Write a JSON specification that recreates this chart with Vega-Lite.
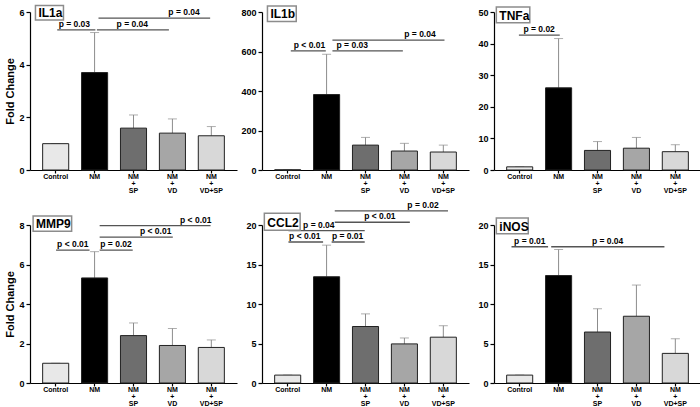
{
  "$schema": "https://vega.github.io/schema/vega-lite/v6.json",
  "background": "white",
  "padding": {"left": 4, "top": 4, "right": 0, "bottom": 0},
  "columns": 3,
  "spacing": {"row": 55, "column": 25},
  "bounds": "flush",
  "datasets": {
    "bars": [
      {"panel": "IL1a", "group": "Control", "mean": 1.0, "upper": 1.0},
      {"panel": "IL1a", "group": "NM", "mean": 3.7, "upper": 5.22},
      {"panel": "IL1a", "group": "NM+SP", "mean": 1.59, "upper": 2.09},
      {"panel": "IL1a", "group": "NM+VD", "mean": 1.4, "upper": 1.94},
      {"panel": "IL1a", "group": "NM+VD+SP", "mean": 1.3, "upper": 1.65},
      {"panel": "IL1b", "group": "Control", "mean": 1.0, "upper": 1.0},
      {"panel": "IL1b", "group": "NM", "mean": 382, "upper": 586},
      {"panel": "IL1b", "group": "NM+SP", "mean": 126, "upper": 165},
      {"panel": "IL1b", "group": "NM+VD", "mean": 96, "upper": 135},
      {"panel": "IL1b", "group": "NM+VD+SP", "mean": 91, "upper": 126},
      {"panel": "TNFa", "group": "Control", "mean": 1.0, "upper": 1.0},
      {"panel": "TNFa", "group": "NM", "mean": 26.0, "upper": 41.6},
      {"panel": "TNFa", "group": "NM+SP", "mean": 6.2, "upper": 9.0},
      {"panel": "TNFa", "group": "NM+VD", "mean": 6.9, "upper": 10.3},
      {"panel": "TNFa", "group": "NM+VD+SP", "mean": 5.8, "upper": 8.0},
      {"panel": "MMP9", "group": "Control", "mean": 1.0, "upper": 1.0},
      {"panel": "MMP9", "group": "NM", "mean": 5.32, "upper": 6.65},
      {"panel": "MMP9", "group": "NM+SP", "mean": 2.4, "upper": 3.04},
      {"panel": "MMP9", "group": "NM+VD", "mean": 1.9, "upper": 2.76},
      {"panel": "MMP9", "group": "NM+VD+SP", "mean": 1.8, "upper": 2.18},
      {"panel": "CCL2", "group": "Control", "mean": 1.0, "upper": 1.0},
      {"panel": "CCL2", "group": "NM", "mean": 13.45, "upper": 17.45},
      {"panel": "CCL2", "group": "NM+SP", "mean": 7.15, "upper": 8.75},
      {"panel": "CCL2", "group": "NM+VD", "mean": 4.95, "upper": 5.7},
      {"panel": "CCL2", "group": "NM+VD+SP", "mean": 5.8, "upper": 7.25},
      {"panel": "iNOS", "group": "Control", "mean": 1.0, "upper": 1.0},
      {"panel": "iNOS", "group": "NM", "mean": 13.6, "upper": 16.9},
      {"panel": "iNOS", "group": "NM+SP", "mean": 6.45, "upper": 9.4},
      {"panel": "iNOS", "group": "NM+VD", "mean": 8.45, "upper": 12.4},
      {"panel": "iNOS", "group": "NM+VD+SP", "mean": 3.75, "upper": 5.6}
    ],
    "notes": [
      {"panel": "IL1a", "x1": 0.04, "x2": 1.02, "y": 5.32, "xt": 0.48, "label": "p = 0.03"},
      {"panel": "IL1a", "x1": 1.06, "x2": 2.91, "y": 5.32, "xt": 1.97, "label": "p = 0.04"},
      {"panel": "IL1a", "x1": 1.1, "x2": 3.97, "y": 5.77, "xt": 3.3, "label": "p = 0.04"},
      {"panel": "IL1b", "x1": 0.08, "x2": 0.98, "y": 603, "xt": 0.56, "label": "p < 0.01"},
      {"panel": "IL1b", "x1": 1.15, "x2": 2.96, "y": 603, "xt": 1.66, "label": "p = 0.03"},
      {"panel": "IL1b", "x1": 1.15, "x2": 4.03, "y": 658, "xt": 3.4, "label": "p = 0.04"},
      {"panel": "TNFa", "x1": -0.02, "x2": 1.03, "y": 42.7, "xt": 0.5, "label": "p = 0.02"},
      {"panel": "MMP9", "x1": 0.01, "x2": 0.87, "y": 6.73, "xt": 0.44, "label": "p < 0.01"},
      {"panel": "MMP9", "x1": 1.13, "x2": 1.98, "y": 6.73, "xt": 1.55, "label": "p = 0.02"},
      {"panel": "MMP9", "x1": 1.13, "x2": 3.01, "y": 7.39, "xt": 2.57, "label": "p < 0.01"},
      {"panel": "MMP9", "x1": 1.13, "x2": 3.98, "y": 7.97, "xt": 3.6, "label": "p < 0.01"},
      {"panel": "CCL2", "x1": 0.02, "x2": 0.91, "y": 17.85, "xt": 0.44, "label": "p < 0.01"},
      {"panel": "CCL2", "x1": 1.13, "x2": 1.98, "y": 17.85, "xt": 1.54, "label": "p = 0.01"},
      {"panel": "CCL2", "x1": 0.02, "x2": 1.98, "y": 19.3, "xt": 0.8, "label": "p = 0.04"},
      {"panel": "CCL2", "x1": 1.21, "x2": 3.14, "y": 20.35, "xt": 2.37, "label": "p < 0.01"},
      {"panel": "CCL2", "x1": 1.21, "x2": 4.12, "y": 21.8, "xt": 3.48, "label": "p = 0.02"},
      {"panel": "iNOS", "x1": -0.21, "x2": 0.73, "y": 17.25, "xt": 0.26, "label": "p = 0.01"},
      {"panel": "iNOS", "x1": 0.81, "x2": 3.72, "y": 17.25, "xt": 2.26, "label": "p = 0.04"}
    ],
    "labels": [
      {"panel": "IL1a", "name": "IL1a", "bx1": -0.52, "bx2": 0.2, "by1": 6.25, "by2": 5.7},
      {"panel": "IL1b", "name": "IL1b", "bx1": -0.52, "bx2": 0.22, "by1": 830, "by2": 752},
      {"panel": "TNFa", "name": "TNFa", "bx1": -0.6, "bx2": 0.26, "by1": 51.6, "by2": 46.6},
      {"panel": "MMP9", "name": "MMP9", "bx1": -0.58, "bx2": 0.41, "by1": 8.46, "by2": 7.68},
      {"panel": "CCL2", "name": "CCL2", "bx1": -0.6, "bx2": 0.32, "by1": 21.5, "by2": 19.35},
      {"panel": "iNOS", "name": "iNOS", "bx1": -0.6, "bx2": 0.22, "by1": 20.9, "by2": 18.9}
    ]
  },
  "concat": [
    {
      "width": 207, "height": 158,
      "resolve": {"scale": {"x": "independent"}},
      "layer": [
        {
          "data": {"name": "bars"},
          "transform": [{"filter": "datum.panel === 'IL1a'"}],
          "encoding": {
            "x": {"field": "group", "type": "nominal", "sort": ["Control", "NM", "NM+SP", "NM+VD", "NM+VD+SP"], "title": null, "scale": {"paddingInner": 0.33, "paddingOuter": 0.325}, "axis": {"labelExpr": "indexof(datum.value, '+') > 0 ? [slice(datum.value, 0, 2), '+', slice(datum.value, 3)] : datum.value"}},
            "y": {"field": "mean", "type": "quantitative", "title": "Fold Change", "scale": {"domain": [0, 6], "nice": false}, "axis": {"values": [0, 2, 4, 6], "labelOverlap": false}}
          },
          "layer": [
            {"mark": {"type": "rule", "color": "#8c8c8c", "strokeWidth": 1}, "encoding": {"y2": {"field": "upper"}}},
            {"mark": {"type": "tick", "color": "#8c8c8c", "thickness": 1, "size": 9}, "encoding": {"y": {"field": "upper", "type": "quantitative", "title": "Fold Change", "scale": {"domain": [0, 6], "nice": false}, "axis": {"values": [0, 2, 4, 6], "labelOverlap": false}}}},
            {"mark": {"type": "bar", "stroke": "#222222", "strokeWidth": 1}, "encoding": {"fill": {"field": "group", "type": "nominal", "legend": null, "scale": {"domain": ["Control", "NM", "NM+SP", "NM+VD", "NM+VD+SP"], "range": ["#e8e8e8", "#000000", "#6e6e6e", "#a6a6a6", "#d8d8d8"]}}}}
          ]
        },
        {
          "data": {"name": "notes"},
          "transform": [{"filter": "datum.panel === 'IL1a'"}],
          "layer": [
            {"mark": {"type": "rule", "color": "#555555", "strokeWidth": 1.3}, "encoding": {"x": {"field": "x1", "type": "quantitative", "axis": null, "scale": {"domain": [-0.66, 4.66], "nice": false, "zero": false}}, "x2": {"field": "x2"}, "y": {"field": "y", "type": "quantitative", "title": "Fold Change", "scale": {"domain": [0, 6], "nice": false}, "axis": {"values": [0, 2, 4, 6], "labelOverlap": false}}}},
            {"mark": {"type": "text", "baseline": "bottom", "dy": -1, "fontWeight": "bold", "fontSize": 8.5, "font": "Liberation Sans"}, "encoding": {"x": {"field": "xt", "type": "quantitative", "axis": null, "scale": {"domain": [-0.66, 4.66], "nice": false, "zero": false}}, "y": {"field": "y", "type": "quantitative", "title": "Fold Change", "scale": {"domain": [0, 6], "nice": false}, "axis": {"values": [0, 2, 4, 6], "labelOverlap": false}}, "text": {"field": "label"}}}
          ]
        },
        {
          "data": {"name": "labels"},
          "transform": [{"filter": "datum.panel === 'IL1a'"}],
          "layer": [
            {"mark": {"type": "rect", "fill": "white", "stroke": "#8c8c8c", "strokeWidth": 1.5}, "encoding": {"x": {"field": "bx1", "type": "quantitative", "axis": null, "scale": {"domain": [-0.66, 4.66], "nice": false, "zero": false}}, "x2": {"field": "bx2"}, "y": {"field": "by1", "type": "quantitative", "title": "Fold Change", "scale": {"domain": [0, 6], "nice": false}, "axis": {"values": [0, 2, 4, 6], "labelOverlap": false}}, "y2": {"field": "by2"}}},
            {"mark": {"type": "text", "align": "left", "baseline": "alphabetic", "dx": 3, "dy": -3, "fontWeight": "bold", "fontSize": 12, "font": "Liberation Sans"}, "encoding": {"x": {"field": "bx1", "type": "quantitative", "axis": null, "scale": {"domain": [-0.66, 4.66], "nice": false, "zero": false}}, "y": {"field": "by2", "type": "quantitative", "title": "Fold Change", "scale": {"domain": [0, 6], "nice": false}, "axis": {"values": [0, 2, 4, 6], "labelOverlap": false}}, "text": {"field": "name"}}}
          ]
        }
      ]
    },
    {
      "width": 207, "height": 158,
      "resolve": {"scale": {"x": "independent"}},
      "layer": [
        {
          "data": {"name": "bars"},
          "transform": [{"filter": "datum.panel === 'IL1b'"}],
          "encoding": {
            "x": {"field": "group", "type": "nominal", "sort": ["Control", "NM", "NM+SP", "NM+VD", "NM+VD+SP"], "title": null, "scale": {"paddingInner": 0.33, "paddingOuter": 0.325}, "axis": {"labelExpr": "indexof(datum.value, '+') > 0 ? [slice(datum.value, 0, 2), '+', slice(datum.value, 3)] : datum.value"}},
            "y": {"field": "mean", "type": "quantitative", "title": null, "scale": {"domain": [0, 800], "nice": false}, "axis": {"values": [0, 200, 400, 600, 800], "labelOverlap": false}}
          },
          "layer": [
            {"mark": {"type": "rule", "color": "#8c8c8c", "strokeWidth": 1}, "encoding": {"y2": {"field": "upper"}}},
            {"mark": {"type": "tick", "color": "#8c8c8c", "thickness": 1, "size": 9}, "encoding": {"y": {"field": "upper", "type": "quantitative", "title": null, "scale": {"domain": [0, 800], "nice": false}, "axis": {"values": [0, 200, 400, 600, 800], "labelOverlap": false}}}},
            {"mark": {"type": "bar", "stroke": "#222222", "strokeWidth": 1}, "encoding": {"fill": {"field": "group", "type": "nominal", "legend": null, "scale": {"domain": ["Control", "NM", "NM+SP", "NM+VD", "NM+VD+SP"], "range": ["#e8e8e8", "#000000", "#6e6e6e", "#a6a6a6", "#d8d8d8"]}}}}
          ]
        },
        {
          "data": {"name": "notes"},
          "transform": [{"filter": "datum.panel === 'IL1b'"}],
          "layer": [
            {"mark": {"type": "rule", "color": "#555555", "strokeWidth": 1.3}, "encoding": {"x": {"field": "x1", "type": "quantitative", "axis": null, "scale": {"domain": [-0.66, 4.66], "nice": false, "zero": false}}, "x2": {"field": "x2"}, "y": {"field": "y", "type": "quantitative", "title": null, "scale": {"domain": [0, 800], "nice": false}, "axis": {"values": [0, 200, 400, 600, 800], "labelOverlap": false}}}},
            {"mark": {"type": "text", "baseline": "bottom", "dy": -1, "fontWeight": "bold", "fontSize": 8.5, "font": "Liberation Sans"}, "encoding": {"x": {"field": "xt", "type": "quantitative", "axis": null, "scale": {"domain": [-0.66, 4.66], "nice": false, "zero": false}}, "y": {"field": "y", "type": "quantitative", "title": null, "scale": {"domain": [0, 800], "nice": false}, "axis": {"values": [0, 200, 400, 600, 800], "labelOverlap": false}}, "text": {"field": "label"}}}
          ]
        },
        {
          "data": {"name": "labels"},
          "transform": [{"filter": "datum.panel === 'IL1b'"}],
          "layer": [
            {"mark": {"type": "rect", "fill": "white", "stroke": "#8c8c8c", "strokeWidth": 1.5}, "encoding": {"x": {"field": "bx1", "type": "quantitative", "axis": null, "scale": {"domain": [-0.66, 4.66], "nice": false, "zero": false}}, "x2": {"field": "bx2"}, "y": {"field": "by1", "type": "quantitative", "title": null, "scale": {"domain": [0, 800], "nice": false}, "axis": {"values": [0, 200, 400, 600, 800], "labelOverlap": false}}, "y2": {"field": "by2"}}},
            {"mark": {"type": "text", "align": "left", "baseline": "alphabetic", "dx": 3, "dy": -3, "fontWeight": "bold", "fontSize": 12, "font": "Liberation Sans"}, "encoding": {"x": {"field": "bx1", "type": "quantitative", "axis": null, "scale": {"domain": [-0.66, 4.66], "nice": false, "zero": false}}, "y": {"field": "by2", "type": "quantitative", "title": null, "scale": {"domain": [0, 800], "nice": false}, "axis": {"values": [0, 200, 400, 600, 800], "labelOverlap": false}}, "text": {"field": "name"}}}
          ]
        }
      ]
    },
    {
      "width": 207, "height": 158,
      "resolve": {"scale": {"x": "independent"}},
      "layer": [
        {
          "data": {"name": "bars"},
          "transform": [{"filter": "datum.panel === 'TNFa'"}],
          "encoding": {
            "x": {"field": "group", "type": "nominal", "sort": ["Control", "NM", "NM+SP", "NM+VD", "NM+VD+SP"], "title": null, "scale": {"paddingInner": 0.33, "paddingOuter": 0.325}, "axis": {"labelExpr": "indexof(datum.value, '+') > 0 ? [slice(datum.value, 0, 2), '+', slice(datum.value, 3)] : datum.value"}},
            "y": {"field": "mean", "type": "quantitative", "title": null, "scale": {"domain": [0, 50], "nice": false}, "axis": {"values": [0, 10, 20, 30, 40, 50], "labelOverlap": false}}
          },
          "layer": [
            {"mark": {"type": "rule", "color": "#8c8c8c", "strokeWidth": 1}, "encoding": {"y2": {"field": "upper"}}},
            {"mark": {"type": "tick", "color": "#8c8c8c", "thickness": 1, "size": 9}, "encoding": {"y": {"field": "upper", "type": "quantitative", "title": null, "scale": {"domain": [0, 50], "nice": false}, "axis": {"values": [0, 10, 20, 30, 40, 50], "labelOverlap": false}}}},
            {"mark": {"type": "bar", "stroke": "#222222", "strokeWidth": 1}, "encoding": {"fill": {"field": "group", "type": "nominal", "legend": null, "scale": {"domain": ["Control", "NM", "NM+SP", "NM+VD", "NM+VD+SP"], "range": ["#e8e8e8", "#000000", "#6e6e6e", "#a6a6a6", "#d8d8d8"]}}}}
          ]
        },
        {
          "data": {"name": "notes"},
          "transform": [{"filter": "datum.panel === 'TNFa'"}],
          "layer": [
            {"mark": {"type": "rule", "color": "#555555", "strokeWidth": 1.3}, "encoding": {"x": {"field": "x1", "type": "quantitative", "axis": null, "scale": {"domain": [-0.66, 4.66], "nice": false, "zero": false}}, "x2": {"field": "x2"}, "y": {"field": "y", "type": "quantitative", "title": null, "scale": {"domain": [0, 50], "nice": false}, "axis": {"values": [0, 10, 20, 30, 40, 50], "labelOverlap": false}}}},
            {"mark": {"type": "text", "baseline": "bottom", "dy": -1, "fontWeight": "bold", "fontSize": 8.5, "font": "Liberation Sans"}, "encoding": {"x": {"field": "xt", "type": "quantitative", "axis": null, "scale": {"domain": [-0.66, 4.66], "nice": false, "zero": false}}, "y": {"field": "y", "type": "quantitative", "title": null, "scale": {"domain": [0, 50], "nice": false}, "axis": {"values": [0, 10, 20, 30, 40, 50], "labelOverlap": false}}, "text": {"field": "label"}}}
          ]
        },
        {
          "data": {"name": "labels"},
          "transform": [{"filter": "datum.panel === 'TNFa'"}],
          "layer": [
            {"mark": {"type": "rect", "fill": "white", "stroke": "#8c8c8c", "strokeWidth": 1.5}, "encoding": {"x": {"field": "bx1", "type": "quantitative", "axis": null, "scale": {"domain": [-0.66, 4.66], "nice": false, "zero": false}}, "x2": {"field": "bx2"}, "y": {"field": "by1", "type": "quantitative", "title": null, "scale": {"domain": [0, 50], "nice": false}, "axis": {"values": [0, 10, 20, 30, 40, 50], "labelOverlap": false}}, "y2": {"field": "by2"}}},
            {"mark": {"type": "text", "align": "left", "baseline": "alphabetic", "dx": 3, "dy": -3, "fontWeight": "bold", "fontSize": 12, "font": "Liberation Sans"}, "encoding": {"x": {"field": "bx1", "type": "quantitative", "axis": null, "scale": {"domain": [-0.66, 4.66], "nice": false, "zero": false}}, "y": {"field": "by2", "type": "quantitative", "title": null, "scale": {"domain": [0, 50], "nice": false}, "axis": {"values": [0, 10, 20, 30, 40, 50], "labelOverlap": false}}, "text": {"field": "name"}}}
          ]
        }
      ]
    },
    {
      "width": 207, "height": 158,
      "resolve": {"scale": {"x": "independent"}},
      "layer": [
        {
          "data": {"name": "bars"},
          "transform": [{"filter": "datum.panel === 'MMP9'"}],
          "encoding": {
            "x": {"field": "group", "type": "nominal", "sort": ["Control", "NM", "NM+SP", "NM+VD", "NM+VD+SP"], "title": null, "scale": {"paddingInner": 0.33, "paddingOuter": 0.325}, "axis": {"labelExpr": "indexof(datum.value, '+') > 0 ? [slice(datum.value, 0, 2), '+', slice(datum.value, 3)] : datum.value"}},
            "y": {"field": "mean", "type": "quantitative", "title": "Fold Change", "scale": {"domain": [0, 8], "nice": false}, "axis": {"values": [0, 2, 4, 6, 8], "labelOverlap": false}}
          },
          "layer": [
            {"mark": {"type": "rule", "color": "#8c8c8c", "strokeWidth": 1}, "encoding": {"y2": {"field": "upper"}}},
            {"mark": {"type": "tick", "color": "#8c8c8c", "thickness": 1, "size": 9}, "encoding": {"y": {"field": "upper", "type": "quantitative", "title": "Fold Change", "scale": {"domain": [0, 8], "nice": false}, "axis": {"values": [0, 2, 4, 6, 8], "labelOverlap": false}}}},
            {"mark": {"type": "bar", "stroke": "#222222", "strokeWidth": 1}, "encoding": {"fill": {"field": "group", "type": "nominal", "legend": null, "scale": {"domain": ["Control", "NM", "NM+SP", "NM+VD", "NM+VD+SP"], "range": ["#e8e8e8", "#000000", "#6e6e6e", "#a6a6a6", "#d8d8d8"]}}}}
          ]
        },
        {
          "data": {"name": "notes"},
          "transform": [{"filter": "datum.panel === 'MMP9'"}],
          "layer": [
            {"mark": {"type": "rule", "color": "#555555", "strokeWidth": 1.3}, "encoding": {"x": {"field": "x1", "type": "quantitative", "axis": null, "scale": {"domain": [-0.66, 4.66], "nice": false, "zero": false}}, "x2": {"field": "x2"}, "y": {"field": "y", "type": "quantitative", "title": "Fold Change", "scale": {"domain": [0, 8], "nice": false}, "axis": {"values": [0, 2, 4, 6, 8], "labelOverlap": false}}}},
            {"mark": {"type": "text", "baseline": "bottom", "dy": -1, "fontWeight": "bold", "fontSize": 8.5, "font": "Liberation Sans"}, "encoding": {"x": {"field": "xt", "type": "quantitative", "axis": null, "scale": {"domain": [-0.66, 4.66], "nice": false, "zero": false}}, "y": {"field": "y", "type": "quantitative", "title": "Fold Change", "scale": {"domain": [0, 8], "nice": false}, "axis": {"values": [0, 2, 4, 6, 8], "labelOverlap": false}}, "text": {"field": "label"}}}
          ]
        },
        {
          "data": {"name": "labels"},
          "transform": [{"filter": "datum.panel === 'MMP9'"}],
          "layer": [
            {"mark": {"type": "rect", "fill": "white", "stroke": "#8c8c8c", "strokeWidth": 1.5}, "encoding": {"x": {"field": "bx1", "type": "quantitative", "axis": null, "scale": {"domain": [-0.66, 4.66], "nice": false, "zero": false}}, "x2": {"field": "bx2"}, "y": {"field": "by1", "type": "quantitative", "title": "Fold Change", "scale": {"domain": [0, 8], "nice": false}, "axis": {"values": [0, 2, 4, 6, 8], "labelOverlap": false}}, "y2": {"field": "by2"}}},
            {"mark": {"type": "text", "align": "left", "baseline": "alphabetic", "dx": 3, "dy": -3, "fontWeight": "bold", "fontSize": 12, "font": "Liberation Sans"}, "encoding": {"x": {"field": "bx1", "type": "quantitative", "axis": null, "scale": {"domain": [-0.66, 4.66], "nice": false, "zero": false}}, "y": {"field": "by2", "type": "quantitative", "title": "Fold Change", "scale": {"domain": [0, 8], "nice": false}, "axis": {"values": [0, 2, 4, 6, 8], "labelOverlap": false}}, "text": {"field": "name"}}}
          ]
        }
      ]
    },
    {
      "width": 207, "height": 158,
      "resolve": {"scale": {"x": "independent"}},
      "layer": [
        {
          "data": {"name": "bars"},
          "transform": [{"filter": "datum.panel === 'CCL2'"}],
          "encoding": {
            "x": {"field": "group", "type": "nominal", "sort": ["Control", "NM", "NM+SP", "NM+VD", "NM+VD+SP"], "title": null, "scale": {"paddingInner": 0.33, "paddingOuter": 0.325}, "axis": {"labelExpr": "indexof(datum.value, '+') > 0 ? [slice(datum.value, 0, 2), '+', slice(datum.value, 3)] : datum.value"}},
            "y": {"field": "mean", "type": "quantitative", "title": null, "scale": {"domain": [0, 20], "nice": false}, "axis": {"values": [0, 5, 10, 15, 20], "labelOverlap": false}}
          },
          "layer": [
            {"mark": {"type": "rule", "color": "#8c8c8c", "strokeWidth": 1}, "encoding": {"y2": {"field": "upper"}}},
            {"mark": {"type": "tick", "color": "#8c8c8c", "thickness": 1, "size": 9}, "encoding": {"y": {"field": "upper", "type": "quantitative", "title": null, "scale": {"domain": [0, 20], "nice": false}, "axis": {"values": [0, 5, 10, 15, 20], "labelOverlap": false}}}},
            {"mark": {"type": "bar", "stroke": "#222222", "strokeWidth": 1}, "encoding": {"fill": {"field": "group", "type": "nominal", "legend": null, "scale": {"domain": ["Control", "NM", "NM+SP", "NM+VD", "NM+VD+SP"], "range": ["#e8e8e8", "#000000", "#6e6e6e", "#a6a6a6", "#d8d8d8"]}}}}
          ]
        },
        {
          "data": {"name": "notes"},
          "transform": [{"filter": "datum.panel === 'CCL2'"}],
          "layer": [
            {"mark": {"type": "rule", "color": "#555555", "strokeWidth": 1.3}, "encoding": {"x": {"field": "x1", "type": "quantitative", "axis": null, "scale": {"domain": [-0.66, 4.66], "nice": false, "zero": false}}, "x2": {"field": "x2"}, "y": {"field": "y", "type": "quantitative", "title": null, "scale": {"domain": [0, 20], "nice": false}, "axis": {"values": [0, 5, 10, 15, 20], "labelOverlap": false}}}},
            {"mark": {"type": "text", "baseline": "bottom", "dy": -1, "fontWeight": "bold", "fontSize": 8.5, "font": "Liberation Sans"}, "encoding": {"x": {"field": "xt", "type": "quantitative", "axis": null, "scale": {"domain": [-0.66, 4.66], "nice": false, "zero": false}}, "y": {"field": "y", "type": "quantitative", "title": null, "scale": {"domain": [0, 20], "nice": false}, "axis": {"values": [0, 5, 10, 15, 20], "labelOverlap": false}}, "text": {"field": "label"}}}
          ]
        },
        {
          "data": {"name": "labels"},
          "transform": [{"filter": "datum.panel === 'CCL2'"}],
          "layer": [
            {"mark": {"type": "rect", "fill": "white", "stroke": "#8c8c8c", "strokeWidth": 1.5}, "encoding": {"x": {"field": "bx1", "type": "quantitative", "axis": null, "scale": {"domain": [-0.66, 4.66], "nice": false, "zero": false}}, "x2": {"field": "bx2"}, "y": {"field": "by1", "type": "quantitative", "title": null, "scale": {"domain": [0, 20], "nice": false}, "axis": {"values": [0, 5, 10, 15, 20], "labelOverlap": false}}, "y2": {"field": "by2"}}},
            {"mark": {"type": "text", "align": "left", "baseline": "alphabetic", "dx": 3, "dy": -3, "fontWeight": "bold", "fontSize": 12, "font": "Liberation Sans"}, "encoding": {"x": {"field": "bx1", "type": "quantitative", "axis": null, "scale": {"domain": [-0.66, 4.66], "nice": false, "zero": false}}, "y": {"field": "by2", "type": "quantitative", "title": null, "scale": {"domain": [0, 20], "nice": false}, "axis": {"values": [0, 5, 10, 15, 20], "labelOverlap": false}}, "text": {"field": "name"}}}
          ]
        }
      ]
    },
    {
      "width": 207, "height": 158,
      "resolve": {"scale": {"x": "independent"}},
      "layer": [
        {
          "data": {"name": "bars"},
          "transform": [{"filter": "datum.panel === 'iNOS'"}],
          "encoding": {
            "x": {"field": "group", "type": "nominal", "sort": ["Control", "NM", "NM+SP", "NM+VD", "NM+VD+SP"], "title": null, "scale": {"paddingInner": 0.33, "paddingOuter": 0.325}, "axis": {"labelExpr": "indexof(datum.value, '+') > 0 ? [slice(datum.value, 0, 2), '+', slice(datum.value, 3)] : datum.value"}},
            "y": {"field": "mean", "type": "quantitative", "title": null, "scale": {"domain": [0, 20], "nice": false}, "axis": {"values": [0, 5, 10, 15, 20], "labelOverlap": false}}
          },
          "layer": [
            {"mark": {"type": "rule", "color": "#8c8c8c", "strokeWidth": 1}, "encoding": {"y2": {"field": "upper"}}},
            {"mark": {"type": "tick", "color": "#8c8c8c", "thickness": 1, "size": 9}, "encoding": {"y": {"field": "upper", "type": "quantitative", "title": null, "scale": {"domain": [0, 20], "nice": false}, "axis": {"values": [0, 5, 10, 15, 20], "labelOverlap": false}}}},
            {"mark": {"type": "bar", "stroke": "#222222", "strokeWidth": 1}, "encoding": {"fill": {"field": "group", "type": "nominal", "legend": null, "scale": {"domain": ["Control", "NM", "NM+SP", "NM+VD", "NM+VD+SP"], "range": ["#e8e8e8", "#000000", "#6e6e6e", "#a6a6a6", "#d8d8d8"]}}}}
          ]
        },
        {
          "data": {"name": "notes"},
          "transform": [{"filter": "datum.panel === 'iNOS'"}],
          "layer": [
            {"mark": {"type": "rule", "color": "#555555", "strokeWidth": 1.3}, "encoding": {"x": {"field": "x1", "type": "quantitative", "axis": null, "scale": {"domain": [-0.66, 4.66], "nice": false, "zero": false}}, "x2": {"field": "x2"}, "y": {"field": "y", "type": "quantitative", "title": null, "scale": {"domain": [0, 20], "nice": false}, "axis": {"values": [0, 5, 10, 15, 20], "labelOverlap": false}}}},
            {"mark": {"type": "text", "baseline": "bottom", "dy": -1, "fontWeight": "bold", "fontSize": 8.5, "font": "Liberation Sans"}, "encoding": {"x": {"field": "xt", "type": "quantitative", "axis": null, "scale": {"domain": [-0.66, 4.66], "nice": false, "zero": false}}, "y": {"field": "y", "type": "quantitative", "title": null, "scale": {"domain": [0, 20], "nice": false}, "axis": {"values": [0, 5, 10, 15, 20], "labelOverlap": false}}, "text": {"field": "label"}}}
          ]
        },
        {
          "data": {"name": "labels"},
          "transform": [{"filter": "datum.panel === 'iNOS'"}],
          "layer": [
            {"mark": {"type": "rect", "fill": "white", "stroke": "#8c8c8c", "strokeWidth": 1.5}, "encoding": {"x": {"field": "bx1", "type": "quantitative", "axis": null, "scale": {"domain": [-0.66, 4.66], "nice": false, "zero": false}}, "x2": {"field": "bx2"}, "y": {"field": "by1", "type": "quantitative", "title": null, "scale": {"domain": [0, 20], "nice": false}, "axis": {"values": [0, 5, 10, 15, 20], "labelOverlap": false}}, "y2": {"field": "by2"}}},
            {"mark": {"type": "text", "align": "left", "baseline": "alphabetic", "dx": 3, "dy": -3, "fontWeight": "bold", "fontSize": 12, "font": "Liberation Sans"}, "encoding": {"x": {"field": "bx1", "type": "quantitative", "axis": null, "scale": {"domain": [-0.66, 4.66], "nice": false, "zero": false}}, "y": {"field": "by2", "type": "quantitative", "title": null, "scale": {"domain": [0, 20], "nice": false}, "axis": {"values": [0, 5, 10, 15, 20], "labelOverlap": false}}, "text": {"field": "name"}}}
          ]
        }
      ]
    }
  ],
  "config": {
    "view": {"stroke": null},
    "font": "Liberation Sans",
    "axis": {"grid": false, "domainColor": "#000000", "domainWidth": 1.2, "tickColor": "#000000", "tickWidth": 1.2, "labelFont": "Liberation Sans", "labelFontWeight": "bold", "labelFontSize": 8, "labelColor": "#000000", "titleFont": "Liberation Sans", "titleFontWeight": "bold", "titleFontSize": 11, "titleColor": "#000000"},
    "axisX": {"labelAngle": 0, "tickSize": 3, "labelPadding": -1, "labelFontSize": 7, "labelLineHeight": 7},
    "axisY": {"tickSize": 4, "labelPadding": 2, "titlePadding": 3, "labelFontSize": 9, "labelOverlap": false}
  }
}
